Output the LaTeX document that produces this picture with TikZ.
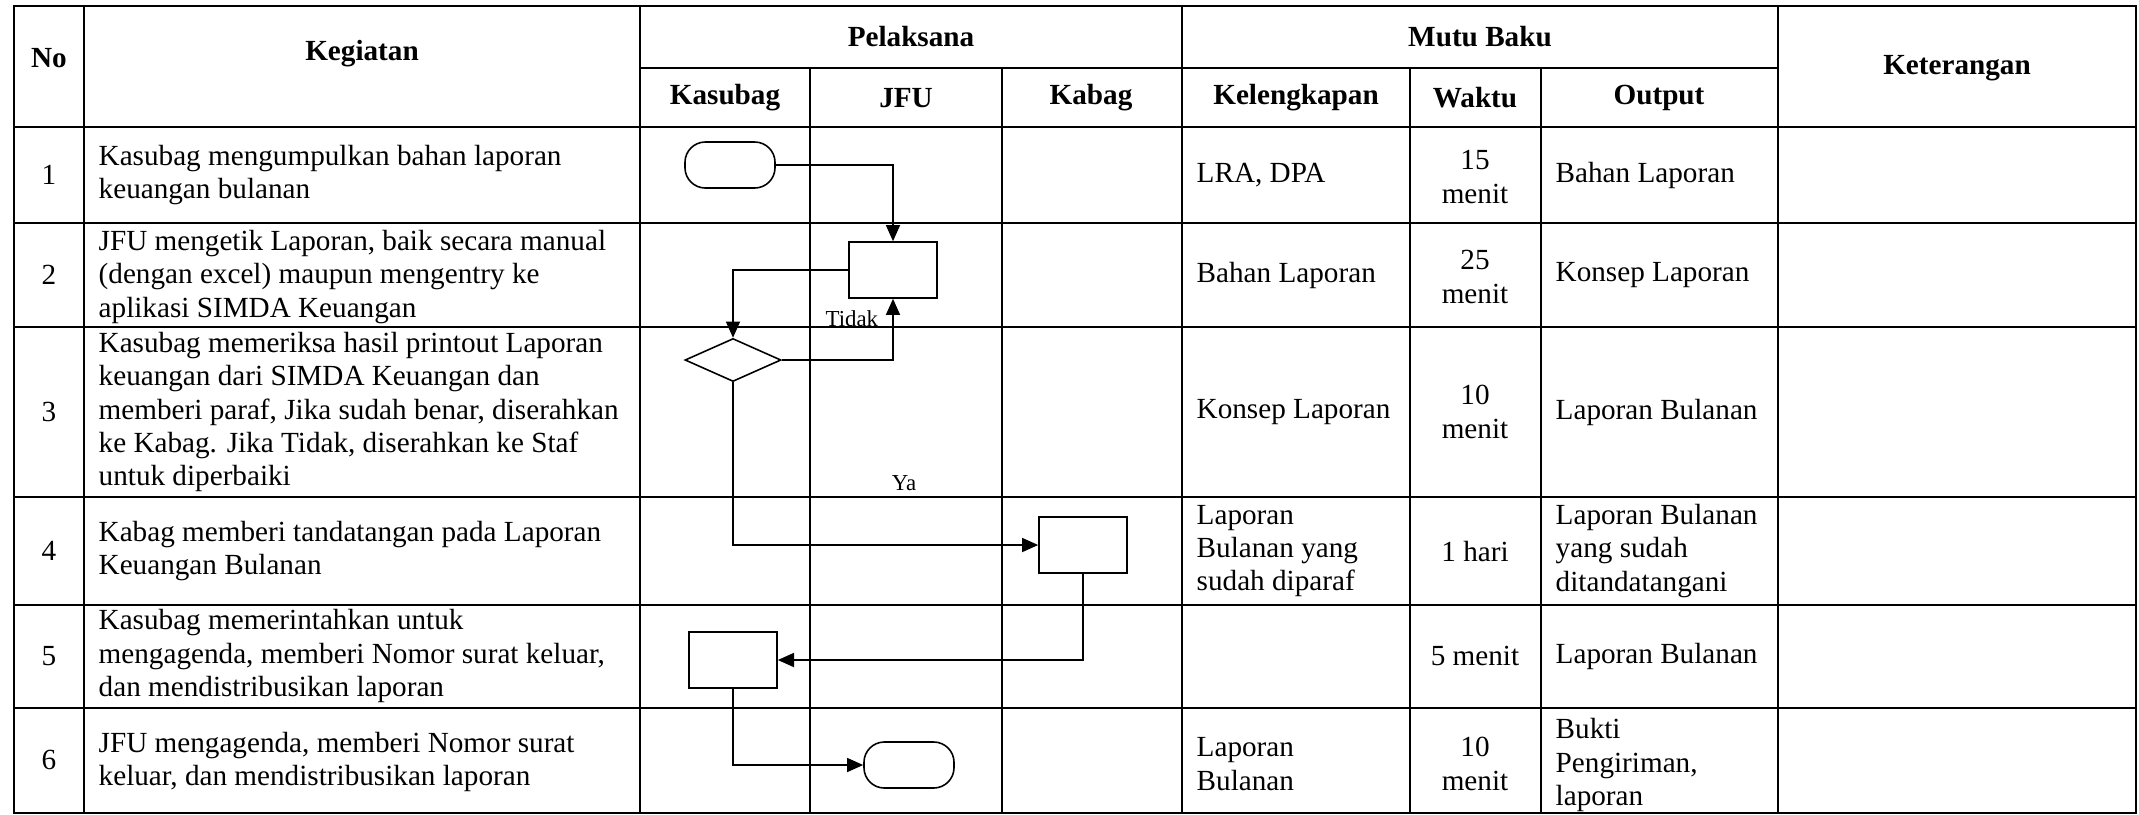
\documentclass[tikz,border=0pt]{standalone}
\usepackage{fontspec}
\setmainfont{Liberation Serif}
\usetikzlibrary{arrows.meta,shapes.geometric}

\newcommand{\LeftX}{14}
\newcommand{\RightX}{2136}
\newcommand{\TopY}{6}
\newcommand{\BotY}{813}

\begin{document}
\begin{tikzpicture}[x=0.01cm,y=-0.01cm,
  rule/.style={line width=0.6pt,line cap=rect},
  txt/.style={inner sep=0pt,font=\fontsize{8.3}{9.5}\selectfont},
  head/.style={inner sep=0pt,font=\fontsize{8.3}{9.5}\selectfont\bfseries},
  cell/.style={txt,anchor=west,align=left},
  mid/.style={txt,align=center},
  lbl/.style={inner sep=0pt,font=\fontsize{6.5}{7.5}\selectfont},
  proc/.style={draw,line width=0.45pt,minimum width=0.88cm,minimum height=0.56cm,inner sep=0pt},
  term/.style={proc,rounded corners=5.8pt,minimum width=0.9cm,minimum height=0.46cm},
  decide/.style={draw,diamond,line width=0.45pt,minimum width=0.96cm,minimum height=0.43cm,inner sep=0pt},
  arr/.style={line width=0.45pt,-{Triangle[length=4.6pt,width=4pt]}}]
\useasboundingbox (0,0) rectangle (2139,814);

% Table rules
\draw[rule] (\LeftX,\TopY) -- (\RightX,\TopY);
\draw[rule] (640,68) -- (1778,68);% under Pelaksana and Mutu Baku
\foreach \y in {127,223,327,497,605,708,\BotY}{
    \draw[rule] (\LeftX,\y) -- (\RightX,\y);
}
\foreach \x in {\LeftX,84,640,1182,1778,\RightX}{
    \draw[rule] (\x,\TopY) -- (\x,\BotY);
}
\foreach \x in {810,1002,1410,1541}{
    \draw[rule] (\x,68) -- (\x,\BotY);
}

% Header
\node[head] (hNo) at (49,58) {No};
\node[head] (hKeg) at (362,54) {Kegiatan};
\node[head] (hPel) at (911,37) {Pelaksana};
\node[head] (hMutu) at (1480,37) {Mutu Baku};
\node[head] (hKet) at (1957,68) {Keterangan};
\node[head] (hKsb) at (725,98) {Kasubag};
\node[head] (hJfu) at (906,98) {JFU};
\node[head] (hKbg) at (1091,98) {Kabag};
\node[head] (hLkp) at (1296,98) {Kelengkapan};
\node[head] (hWkt) at (1475,98) {Waktu};
\node[head] (hOut) at (1659,98) {Output};

% No column
\foreach \n/\y in {1/175,2/275,3/412,4/551,5/656,6/760}{
    \node[txt] (no\n) at (49,\y) {\n};
}

% Kegiatan column
\node[cell] (kg1) at (98,175) {Kasubag mengumpulkan bahan laporan\\keuangan bulanan};
\node[cell] (kg2) at (98,277) {JFU mengetik Laporan, baik secara manual\\(dengan excel) maupun mengentry ke\\aplikasi SIMDA Keuangan};
\node[cell] (kg3) at (98,412) {Kasubag memeriksa hasil printout Laporan\\keuangan dari SIMDA Keuangan dan\\memberi paraf, Jika sudah benar, diserahkan\\ke Kabag. Jika Tidak, diserahkan ke Staf\\untuk diperbaiki};
\node[cell] (kg4) at (98,551) {Kabag memberi tandatangan pada Laporan\\Keuangan Bulanan};
\node[cell] (kg5) at (98,656) {Kasubag memerintahkan untuk\\mengagenda, memberi Nomor surat keluar,\\dan mendistribusikan laporan};
\node[cell] (kg6) at (98,762) {JFU mengagenda, memberi Nomor surat\\keluar, dan mendistribusikan laporan};

% Kelengkapan column
\node[cell] (lk1) at (1196,175) {LRA, DPA};
\node[cell] (lk2) at (1196,275) {Bahan Laporan};
\node[cell] (lk3) at (1196,412) {Konsep Laporan};
\node[cell] (lk4) at (1196,551) {Laporan\\Bulanan yang\\sudah diparaf};
\node[cell] (lk6) at (1196,764) {Laporan\\Bulanan};

% Waktu column
\node[mid] (wk1) at (1475,177) {15\\menit};
\node[mid] (wk2) at (1475,277) {25\\menit};
\node[mid] (wk3) at (1475,412) {10\\menit};
\node[mid] (wk4) at (1475,551) {1 hari};
\node[mid] (wk5) at (1475,656) {5 menit};
\node[mid] (wk6) at (1475,764) {10\\menit};

% Output column
\node[cell] (op1) at (1555,175) {Bahan Laporan};
\node[cell] (op2) at (1555,275) {Konsep Laporan};
\node[cell] (op3) at (1555,412) {Laporan Bulanan};
\node[cell] (op4) at (1555,551) {Laporan Bulanan\\yang sudah\\ditandatangani};
\node[cell] (op5) at (1555,656) {Laporan Bulanan};
\node[cell] (op6) at (1555,765) {Bukti\\Pengiriman,\\laporan};

% Flow shapes
\node[term] (mulai) at (730,165) {};
\node[proc] (ketik) at (893,270) {};
\node[decide] (periksa) at (733,360) {};
\node[proc] (ttd) at (1083,545) {};
\node[proc] (agenda) at (733,660) {};
\node[term] (selesai) at (909,765) {};

% Flow connectors
\draw[arr] (mulai.east) -| (ketik.north);
\draw[arr] (ketik.west) -| (periksa.north);
\draw[arr] (periksa.east) -| (ketik.south) node[lbl,pos=0.84,left=4pt] (tidak) {Tidak};
\draw[arr] (periksa.south) |- (ttd.west);
\draw[arr] (ttd.south) |- (agenda.east);
\draw[arr] (agenda.south) |- (selesai.west);
\node[lbl] (ya) at (904,483) {Ya};
\end{tikzpicture}
\end{document}
